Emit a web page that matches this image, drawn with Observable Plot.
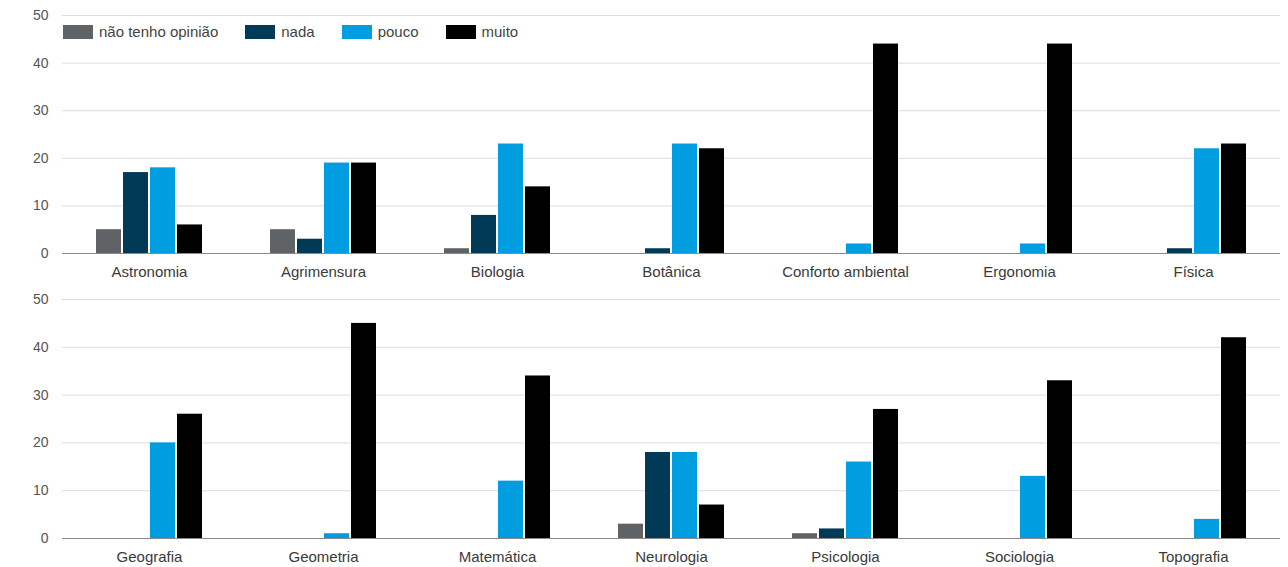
<!DOCTYPE html>
<html>
<head>
<meta charset="utf-8">
<script src="https://cdn.jsdelivr.net/npm/d3@7"></script>
<script src="https://cdn.jsdelivr.net/npm/@observablehq/plot@0.6"></script>
<style>
  html, body { margin: 0; padding: 0; background: #fff; }
  #wrap { position: relative; width: 1288px; height: 567px; font-family: "Liberation Sans", Arial, sans-serif; }
  #legend { position: absolute; left: 63px; top: 24px; display: flex; gap: 27px; font-size: 15px; color: #444; line-height: 15px; }
  #legend .item { display: flex; align-items: center; gap: 6px; }
  #legend .sw { width: 30px; height: 14px; display: inline-block; }
  svg g[aria-label="y-axis"] text, svg g[aria-label="y-axis tick label"] text { fill: #555; font-size: 14px; }
</style>
</head>
<body>
<div id="wrap"><div id="charts"></div><div id="legend"></div></div>
<script>
const categories = ["Astronomia", "Agrimensura", "Biologia", "Botânica", "Conforto ambiental", "Ergonomia", "Física",
                    "Geografia", "Geometria", "Matemática", "Neurologia", "Psicologia", "Sociologia", "Topografia"];
const series = ["não tenho opinião", "nada", "pouco", "muito"];
const naoTenhoOpiniao = [5, 5, 1, 0, 0, 0, 0,   0, 0, 0, 3, 1, 0, 0];
const nada            = [17, 3, 8, 1, 0, 0, 1,  0, 0, 0, 18, 2, 0, 0];
const pouco           = [18, 19, 23, 23, 2, 2, 22,  20, 1, 12, 18, 16, 13, 4];
const muito           = [6, 19, 14, 22, 44, 44, 23,  26, 45, 34, 7, 27, 33, 42];
const yTicks = [0, 10, 20, 30, 40, 50];
const colors = ["#5f6366", "#003a57", "#009ee0", "#000000"];

const values = [naoTenhoOpiniao, nada, pouco, muito];

function panel(from, to, marginTop, marginBottom, height) {
  const cats = categories.slice(from, to);
  const data = [];
  cats.forEach((c, k) => series.forEach((s, j) => data.push({cat: c, series: s, value: values[j][from + k]})));
  return Plot.plot({
    width: 1288, height, marginLeft: 62, marginRight: 8, marginTop, marginBottom,
    style: {fontFamily: "'Liberation Sans', Arial, sans-serif", fontSize: "15px", color: "#3a3a3a", background: "transparent", overflow: "visible"},
    facet: {data, x: "cat"},
    fx: {domain: cats, padding: 0, label: null, tickSize: 0, tickPadding: 13, axis: "bottom"},
    x: {domain: series, axis: null, paddingInner: 0.07, paddingOuter: 1.2},
    y: {domain: [0, 50], ticks: yTicks, label: null, tickSize: 0, tickPadding: 14},
    color: {domain: series, range: colors},
    marks: [
      Plot.ruleY(yTicks.slice(1), {stroke: "#dcdcdc", strokeWidth: 1}),
      Plot.barY(data, {x: "series", y: "value", fill: "series"}),
      Plot.ruleY([0], {stroke: "#8a8a8a", strokeWidth: 1.2})
    ]
  });
}

const charts = document.getElementById("charts");
charts.appendChild(panel(0, 7, 15, 30, 283));
charts.appendChild(panel(7, 14, 16, 29, 284));
for (const svg of charts.querySelectorAll("svg")) svg.style.display = "block";

const legend = document.getElementById("legend");
series.forEach((s, i) => {
  const item = document.createElement("div");
  item.className = "item";
  const sw = document.createElement("span");
  sw.className = "sw";
  sw.style.background = colors[i];
  const t = document.createElement("span");
  t.textContent = s;
  item.appendChild(sw);
  item.appendChild(t);
  legend.appendChild(item);
});
</script>
</body>
</html>
